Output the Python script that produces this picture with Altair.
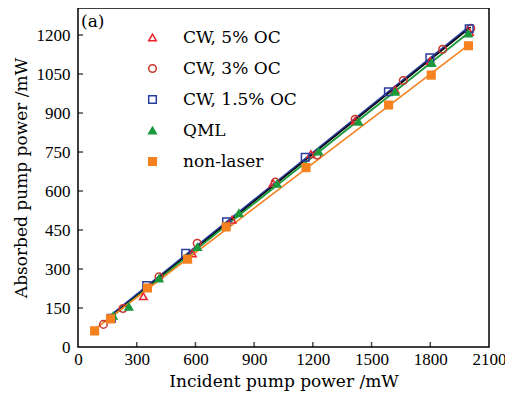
import altair as alt
import pandas as pd

# ---- data ----
cw5_x = [334, 584, 787, 997, 1190, 1416, 1620, 1800, 2000]
cw5_y = [195, 360, 490, 630, 742, 870, 990, 1100, 1212]

cw3_x = [130, 230, 414, 609, 1008, 1221, 1416, 1662, 1863, 2007]
cw3_y = [87, 148, 270, 399, 634, 738, 876, 1025, 1145, 1226]

cw15_x = [170, 351, 550, 759, 1161, 1586, 1798, 1999]
cw15_y = [110, 236, 360, 482, 730, 982, 1112, 1224]

qml_x = [180, 260, 414, 610, 822, 1017, 1229, 1433, 1620, 1807, 1994]
qml_y = [120, 155, 264, 385, 515, 628, 752, 867, 982, 1093, 1206]

nl_x = [85, 166, 355, 560, 757, 1165, 1587, 1805, 1995]
nl_y = [62, 108, 227, 338, 462, 690, 931, 1046, 1159]

series_names = ["CW, 5% OC", "CW, 3% OC", "CW, 1.5% OC", "QML", "non-laser"]
marker_stroke = ["#e8232b", "#c8372f", "#2a3c9c", "#1a9a3c", "#f5821f"]
marker_fill = ["transparent", "transparent", "transparent", "#1a9a3c", "#f5821f"]
marker_shape = ["triangle-up", "circle", "square", "triangle-up", "square"]

x_ticks = [0, 300, 600, 900, 1200, 1500, 1800, 2100]
y_ticks = [0, 150, 300, 450, 600, 750, 900, 1050, 1200]

rows = []
for name, xs, ys in zip(series_names,
                        [cw5_x, cw3_x, cw15_x, qml_x, nl_x],
                        [cw5_y, cw3_y, cw15_y, qml_y, nl_y]):
    for a, b in zip(xs, ys):
        rows.append({"series": name, "x": a, "y": b})
df = pd.DataFrame(rows)

W, H = 411, 339
FONT = "DejaVu Serif"
TFONT = "Liberation Serif"

xs = alt.Scale(domain=[0, 2100], nice=False)
ys = alt.Scale(domain=[0, 1304], nice=False)

xax = alt.Axis(values=x_ticks, ticks=False, grid=False, domain=False, format="d",
               labelFont=TFONT, labelFontSize=17, labelColor="black",
               labelPadding=4, labelFlush=False,
               title="Incident pump power /mW", titleFont=FONT,
               titleFontSize=17, titleFontWeight="normal", titleColor="black",
               titlePadding=6)
yax = alt.Axis(values=y_ticks, ticks=False, grid=False, domain=False, format="d",
               labelFont=TFONT, labelFontSize=17, labelColor="black",
               labelPadding=8, labelFlush=False,
               title="Absorbed pump power /mW", titleFont=FONT,
               titleFontSize=17, titleFontWeight="normal", titleColor="black",
               titlePadding=6)

base = alt.Chart(df)


def fit_line(name, color, width=1.6):
    return base.transform_filter(alt.datum.series == name).transform_regression(
        "x", "y").mark_line(color=color, strokeWidth=width).encode(
        x=alt.X("x:Q", scale=xs, axis=xax),
        y=alt.Y("y:Q", scale=ys, axis=yax),
    )


lines = [
    fit_line("CW, 1.5% OC", "#2a3c9c", 2.2),
    fit_line("CW, 3% OC", "black", 1.4),
    fit_line("QML", "#1a9a3c", 1.8),
    fit_line("non-laser", "#f5821f", 1.6),
]

points = base.mark_point(size=58, strokeWidth=1.5, opacity=1).encode(
    x=alt.X("x:Q", scale=xs, axis=xax),
    y=alt.Y("y:Q", scale=ys, axis=yax),
    stroke=alt.Stroke("series:N", scale=alt.Scale(domain=series_names, range=marker_stroke),
                      legend=alt.Legend(title=None)),
    fill=alt.Fill("series:N", scale=alt.Scale(domain=series_names, range=marker_fill),
                  legend=alt.Legend(title=None)),
    shape=alt.Shape("series:N", scale=alt.Scale(domain=series_names, range=marker_shape),
                    legend=alt.Legend(title=None)),
)

xt = alt.Chart(pd.DataFrame({"x": x_ticks[1:-1]})).mark_tick(
    orient="vertical", color="black", size=5, thickness=1.5).encode(
    x=alt.X("x:Q", scale=xs, axis=xax), y=alt.value(H - 2.5))
yt = alt.Chart(pd.DataFrame({"y": y_ticks[1:]})).mark_tick(
    orient="horizontal", color="black", size=5, thickness=1.5).encode(
    y=alt.Y("y:Q", scale=ys, axis=yax), x=alt.value(2.5))

label = alt.Chart(pd.DataFrame({"t": ["(a)"]})).mark_text(
    font=FONT, fontSize=17, color="black", align="left", baseline="middle").encode(
    text="t:N", x=alt.value(3), y=alt.value(14))

chart = alt.layer(*lines, points, xt, yt, label).properties(
    width=W, height=H,
    autosize=alt.AutoSizeParams(type="none"),
    padding={"left": 70, "top": 0, "right": 16, "bottom": 45},
).configure_view(stroke="black", strokeWidth=1.5).configure_legend(
    orient="none", legendX=66, legendY=21, labelFont=FONT, labelFontSize=17,
    labelColor="black", symbolSize=58, symbolStrokeWidth=1.5, rowPadding=13,
    labelOffset=22, padding=0,
)

chart.save("out.html", embed_options={"renderer": "svg", "actions": False})
